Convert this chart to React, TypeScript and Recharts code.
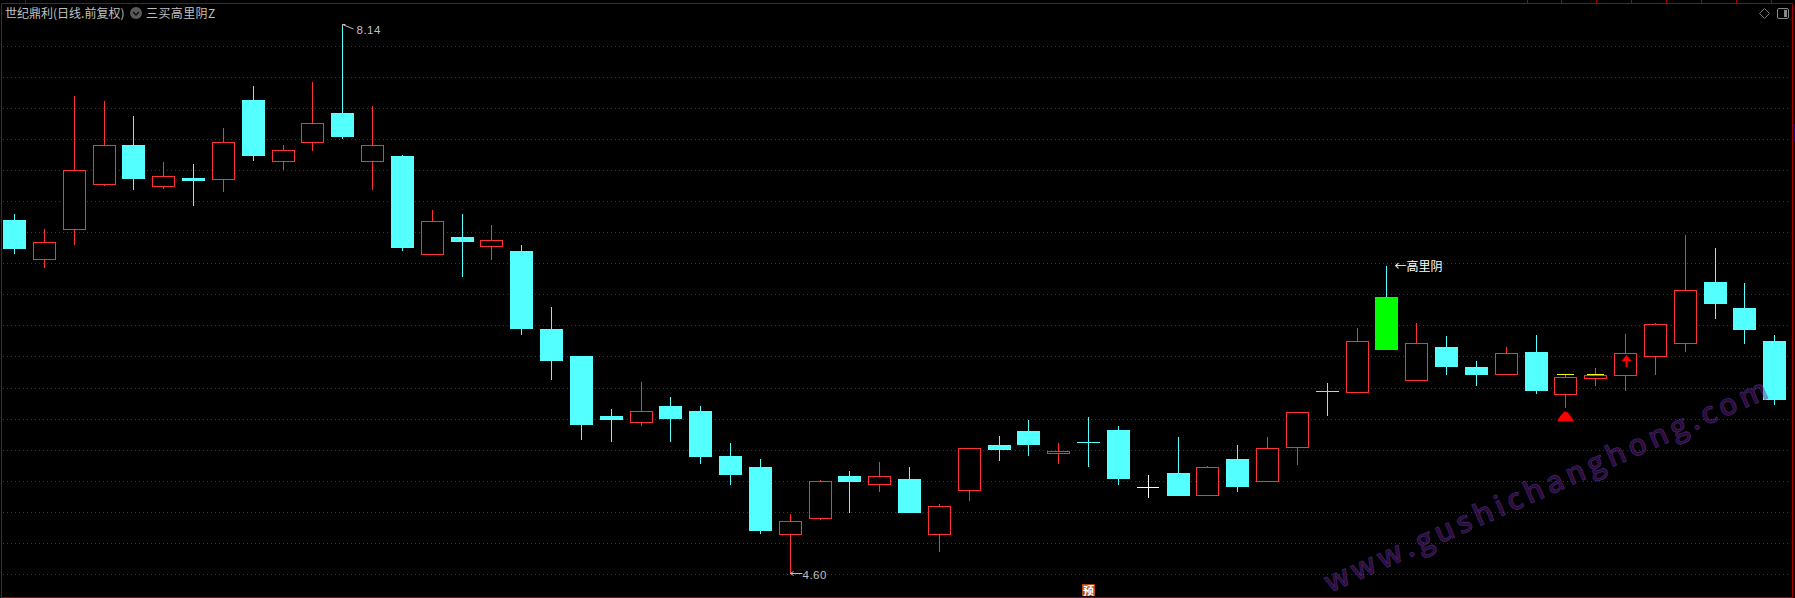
import React from 'react';
import { Bar, BarChart, CartesianGrid, XAxis, YAxis } from 'recharts';

// daily candles, left to right, prices
const opens = [
  6.882, 6.626, 6.82, 7.109, 7.365, 7.097, 7.153, 7.142, 7.655, 7.258,
  7.38, 7.571, 7.258, 7.294, 6.659, 6.773, 6.71, 6.683, 6.18, 6.006,
  5.62, 5.577, 5.684, 5.652, 5.362, 5.292, 4.856, 4.959, 5.234, 5.178,
  5.214, 4.856, 5.139, 5.433, 5.523, 5.377, 5.453, 5.53, 5.16, 5.253,
  5.107, 5.343, 5.197, 5.416, 5.781, 5.77, 6.386, 5.847, 6.064, 5.936,
  5.886, 6.032, 5.757, 5.86, 5.88, 6.002, 6.086, 6.483, 6.315, 6.103,
];
const closes = [
  6.695, 6.739, 7.202, 7.363, 7.146, 7.164, 7.133, 7.382, 7.294, 7.331,
  7.505, 7.417, 7.363, 6.702, 6.874, 6.74, 6.751, 6.18, 5.974, 5.562,
  5.594, 5.65, 5.601, 5.356, 5.24, 4.879, 4.942, 5.2, 5.195, 5.232,
  4.995, 5.039, 5.412, 5.401, 5.433, 5.393, 5.446, 5.214, 5.16, 5.105,
  5.29, 5.163, 5.412, 5.644, 5.775, 6.101, 6.045, 6.088, 5.936, 5.884,
  6.024, 5.781, 5.869, 5.882, 6.024, 6.21, 6.429, 6.341, 6.174, 5.723,
];
const highs = [
  6.921, 6.824, 7.681, 7.648, 7.552, 7.256, 7.243, 7.475, 7.745, 7.365,
  7.771, 8.14, 7.616, 7.301, 6.947, 6.921, 6.85, 6.721, 6.322, 6.006,
  5.665, 5.839, 5.742, 5.684, 5.446, 5.343, 4.989, 5.208, 5.266, 5.324,
  5.292, 5.053, 5.412, 5.491, 5.594, 5.446, 5.614, 5.556, 5.24, 5.485,
  5.298, 5.433, 5.485, 5.644, 5.833, 6.187, 6.586, 6.219, 6.135, 5.974,
  6.064, 6.142, 5.884, 5.929, 6.148, 6.219, 6.786, 6.702, 6.476, 6.142,
];
const lows = [
  6.663, 6.573, 6.721, 7.101, 7.075, 7.082, 6.972, 7.062, 7.262, 7.204,
  7.326, 7.404, 7.075, 6.683, 6.659, 6.515, 6.625, 6.142, 5.852, 5.465,
  5.453, 5.556, 5.453, 5.311, 5.176, 4.86, 4.6, 4.95, 4.995, 5.131,
  4.995, 4.744, 5.073, 5.33, 5.362, 5.311, 5.292, 5.176, 5.092, 5.105,
  5.107, 5.131, 5.197, 5.304, 5.62, 5.77, 6.045, 5.847, 5.884, 5.813,
  5.886, 5.762, 5.672, 5.813, 5.781, 5.884, 6.032, 6.245, 6.084, 5.691,
];

const gridPrices = [8, 7.8, 7.6, 7.4, 7.2, 7, 6.8, 6.6, 6.4, 6.2, 6, 5.8, 5.6, 5.4, 5.2, 5, 4.8, 4.6];
const axisTicks = [
  8.2, 8.1, 8, 7.9, 7.8, 7.7, 7.6, 7.5, 7.4, 7.3, 7.2, 7.1, 7, 6.9, 6.8, 6.7, 6.6, 6.5,
  6.4, 6.3, 6.2, 6.1, 6, 5.9, 5.8, 5.7, 5.6, 5.5, 5.4, 5.3, 5.2, 5.1, 5, 4.9, 4.8, 4.7, 4.6, 4.5,
];

// signals
const highLabel = { index: 11, text: '8.14' };
const lowLabel = { index: 26, text: '4.60' };
const highlightIndex = 46;
const highlightText = '←高里阴';
const yellowMarks = [
  { index: 52, price: 5.887 },
  { index: 53, price: 5.887 },
];
const triangleMark = { index: 52, price: 5.648 };
const arrowMark = { index: 54, price: 6.013 };
const forecastMark = { index: 36, price: 4.538, text: '预' };

const topTickMarks = [25, 1527, 1561, 1596, 1631, 1666, 1701, 1736, 1771];

const RED = '#ff3232';
const CYAN = '#54ffff';
const FRAME = '#a80000';
const CJK = '"Noto Sans CJK SC", sans-serif';

const data = opens.map((open, i) => ({
  i,
  open,
  close: closes[i],
  high: highs[i],
  low: lows[i],
}));

function Candle(props: any) {
  const { x, y, width, height, payload, index } = props;
  const { open, close, high, low } = payload;
  const top = Math.min(y, y + height);
  const pxPerPrice = Math.abs(height) / (high - low);
  const py = (p: number) => top + (high - p) * pxPerPrice;

  const cx = Math.floor(x + width / 2);
  const wx = cx + 0.5;
  const yHigh = Math.round(py(high));
  const yLow = Math.round(py(low));

  const rising = close > open;
  const flat = close === open;
  const color = flat ? '#ffffff' : rising ? RED : CYAN;
  const isHighlight = index === highlightIndex;

  let body;
  let wick;
  if (flat) {
    const ly = Math.floor(py(close)) + 0.5;
    body = <line x1={cx - 11} x2={cx + 11} y1={ly} y2={ly} stroke={color} />;
    wick = <line x1={wx} x2={wx} y1={yHigh} y2={yLow} stroke={color} />;
  } else if (rising) {
    const t = Math.floor(py(close)) + 0.5;
    const b = Math.floor(py(open)) + 0.5;
    body = <rect x={cx - 10.5} y={t} width={22} height={b - t} fill="#000" stroke={color} />;
    wick = (
      <path
        d={`M${wx} ${yHigh}V${t}M${wx} ${b}V${yLow}`}
        stroke={color}
        fill="none"
      />
    );
  } else {
    const t = Math.round(py(open));
    const b = Math.round(py(close));
    body = (
      <rect
        x={cx - 11}
        y={t}
        width={23}
        height={Math.max(b - t, 1)}
        fill={isHighlight ? '#00ff00' : color}
      />
    );
    wick = <line x1={wx} x2={wx} y1={yHigh} y2={yLow} stroke={color} />;
  }

  return (
    <g>
      {wick}
      {body}

      {yellowMarks
        .filter((m) => m.index === index)
        .map((m) => (
          <line
            key={m.index}
            x1={cx - 8}
            x2={cx + 9}
            y1={Math.floor(py(m.price)) + 0.5}
            y2={Math.floor(py(m.price)) + 0.5}
            stroke="#ffff00"
          />
        ))}

      {index === triangleMark.index && (
        <path
          d={`M${wx - 1.5} ${py(triangleMark.price)}h3l5 6l2 3.5h-17l2 -3.5z`}
          fill="#ff0000"
        />
      )}

      {index === arrowMark.index && (
        <path
          d={`M${wx + 1} ${py(arrowMark.price)}l5 6h-4v6h-2v-6h-4z`}
          fill="#ff0000"
        />
      )}

      {index === highLabel.index && (
        <g>
          <path
            d={`M${wx} ${yHigh - 0.5}l11 4.5M${wx} ${yHigh - 0.5}h3M${wx} ${yHigh - 0.5}v3`}
            stroke="#c0c0c0"
            fill="none"
          />
          <text
            x={wx + 14}
            y={yHigh + 9}
            fill="#c0c0c0"
            fontSize={11.5}
            letterSpacing={0.5}
            fontFamily="Liberation Sans"
          >
            {highLabel.text}
          </text>
        </g>
      )}

      {index === lowLabel.index && (
        <g>
          <path
            d={`M${wx} ${yLow - 0.5}h12M${wx} ${yLow - 0.5}l3 -2M${wx} ${yLow - 0.5}l3 2`}
            stroke="#c0c0c0"
            fill="none"
          />
          <text
            x={wx + 12}
            y={yLow + 5}
            fill="#c0c0c0"
            fontSize={11.5}
            letterSpacing={0.5}
            fontFamily="Liberation Sans"
          >
            {lowLabel.text}
          </text>
        </g>
      )}

      {isHighlight && (
        <text x={wx + 8} y={yHigh + 5} fill="#ffffff" fontSize={12} fontFamily={CJK}>
          {highlightText}
        </text>
      )}

      {index === forecastMark.index && (
        <g>
          <rect x={cx - 6} y={py(forecastMark.price)} width={13} height={12} fill="#b8460e" />
          <text
            x={cx + 0.5}
            y={py(forecastMark.price) + 10.5}
            textAnchor="middle"
            fill="#ffffff"
            fontSize={11}
            fontWeight="bold"
            fontFamily={CJK}
          >
            {forecastMark.text}
          </text>
        </g>
      )}
    </g>
  );
}

// snap the dotted price lines onto whole pixel rows
const gridCoordinates = ({ yAxis }: any) => {
  const scale = yAxis?.scale;
  if (!scale) return [];
  const toPx = typeof scale === 'function' ? scale : (p: number) => scale.map(p);
  return gridPrices.map((p) => Math.floor(toPx(p)) + 0.5);
};

export default function App() {
  return (
    <div style={{ position: 'relative', width: 1795, height: 598, background: '#000', overflow: 'hidden' }}>
      <style>{'html,body{margin:0;background:#000}'}</style>

      <BarChart
        width={1795}
        height={598}
        data={data}
        margin={{ top: 3.5, right: 0, bottom: 0.5, left: 0 }}
        barSize={23}
      >
        <CartesianGrid
          vertical={false}
          horizontalCoordinatesGenerator={gridCoordinates}
          stroke="#b80000"
          strokeDasharray="1 3"
          fill="none"
          x={3}
          width={1785}
        />
        <XAxis dataKey="i" hide padding={{ left: 0, right: 2.5 }} />
        <YAxis
          orientation="right"
          width={2.5}
          domain={[4.45125, 8.27625]}
          ticks={axisTicks}
          interval={0}
          tick={false}
          tickSize={3}
          stroke={FRAME}
          allowDataOverflow
        />
        <Bar
          dataKey={(d: any) => [d.low, d.high]}
          shape={Candle}
          isAnimationActive={false}
        />
      </BarChart>

      {/* frame, title row and watermark */}
      <svg
        width={1795}
        height={598}
        style={{ position: 'absolute', left: 0, top: 0, pointerEvents: 'none' }}
      >
        <path
          d="M1.5 3.5V598M1.5 3.5H1792.5M1.5 597.5H1792.5"
          stroke={FRAME}
          fill="none"
        />
        {topTickMarks.map((x) => (
          <line key={x} x1={x + 0.5} x2={x + 0.5} y1={0} y2={3} stroke={FRAME} />
        ))}
        <rect x={1793} y={124} width={2} height={17} fill="#000080" />

        <text x={5} y={18} fill="#c0c0c0" fontSize={12} fontFamily={CJK}>
          世纪鼎利(日线.前复权)
        </text>
        <circle cx={136} cy={13} r={6} fill="#5a5a5a" />
        <path d="M133 12l3 3l3 -3" stroke="#111" strokeWidth={1.5} fill="none" />
        <text x={146} y={18} fill="#c0c0c0" fontSize={12} letterSpacing={0.4} fontFamily={CJK}>
          三买高里阴Z
        </text>

        <path d="M1764.5 8.5l5 5l-5 5l-5 -5z" stroke="#777" fill="none" />
        <rect x={1777.5} y={8.5} width={11} height={10} rx={1.5} stroke="#888" fill="none" />
        <rect x={1784} y={10} width={3} height={7} fill="#888" />

        <text
          x={1330}
          y={593}
          transform="rotate(-24 1330 593)"
          fontSize={30}
          fontWeight={600}
          letterSpacing={4.4}
          fontFamily="Open Sans"
          fill="rgba(130,25,130,0.42)"
          stroke="rgba(70,70,190,0.5)"
          strokeWidth={0.8}
        >
          www.gushichanghong.com
        </text>
      </svg>
    </div>
  );
}
